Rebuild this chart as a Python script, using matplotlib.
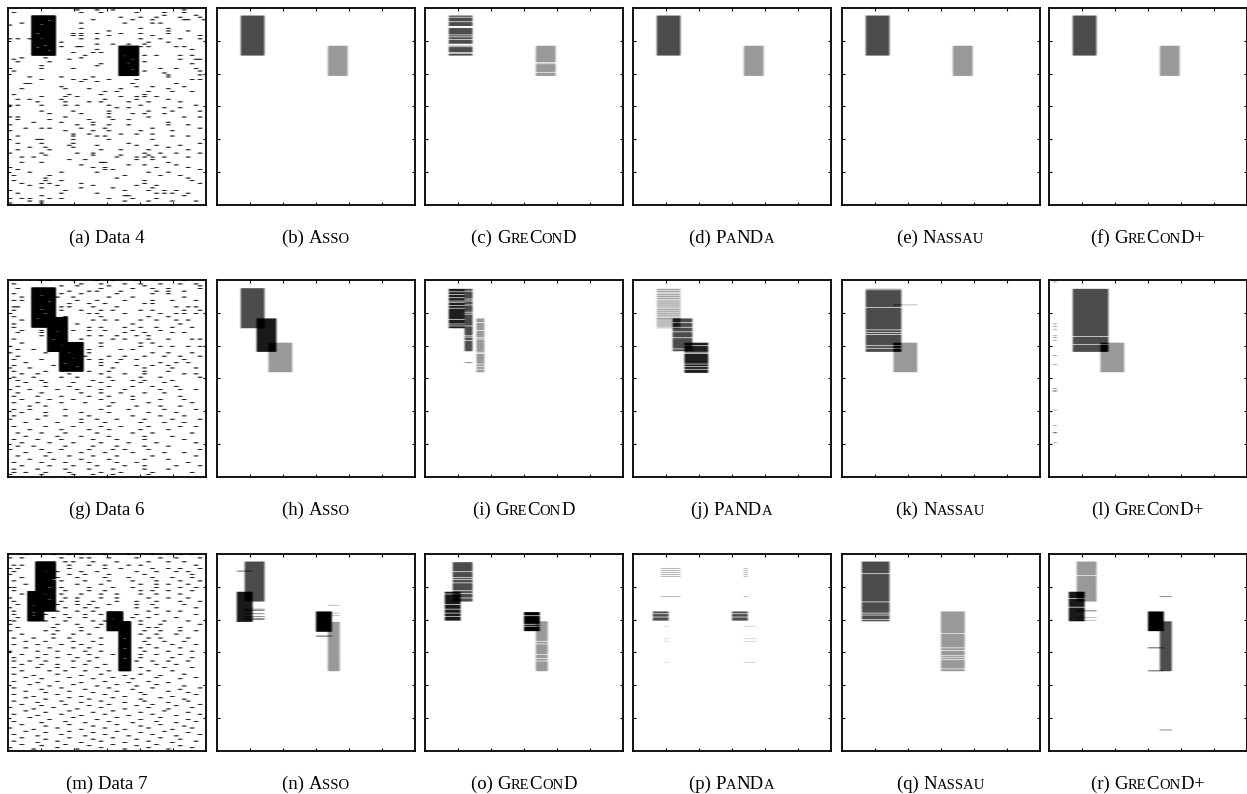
import numpy as np
import matplotlib
matplotlib.use("Agg")
import matplotlib.pyplot as plt
from matplotlib.colors import PowerNorm, Normalize
from matplotlib.offsetbox import TextArea, HPacker, AnnotationBbox

NR, NC = 300, 50  # rows x columns of every matrix

# ---------------- data matrices: blocks (row0, row1, col0, col1), noise, holes
data4_blocks = [(13, 74, 6, 12), (59, 105, 28, 33)]
data4_holes = [(20, 10), (26, 8), (40, 7), (48, 8), (58, 9), (61, 7), (66, 10),
               (74, 29), (79, 31), (85, 30), (95, 31)]
data4_noise = {
    4: [17, 22, 26, 44], 8: [1, 18, 23, 32, 39, 44], 12: [39, 47], 15: [28, 33, 37, 43, 48],
    19: [10, 21, 31, 36, 44, 45, 49], 24: [3, 18, 29, 36, 38], 27: [0], 32: [18, 33, 40],
    36: [25, 40, 45], 40: [16, 18, 22, 28, 33, 40], 43: [16, 18, 25, 36, 48],
    48: [0, 2, 5, 18, 22, 33, 38, 43, 48], 53: [13, 35, 40], 56: [22, 26, 30, 34],
    60: [13, 17, 18, 29, 33, 35, 42, 44], 64: [22, 46], 69: [16, 21, 23],
    73: [19, 34, 37, 43, 46], 77: [3, 9, 18], 79: [1, 15, 43, 47, 48], 83: [2, 10, 34],
    86: [23, 46], 89: [8, 22, 29], 93: [0, 8, 16, 38, 42, 47], 97: [1, 34, 48],
    100: [28, 39], 103: [40, 48], 106: [5, 13, 21, 40], 110: [8, 16, 19, 25, 32, 46, 48],
    113: [18, 22], 116: [4, 5, 31, 42], 121: [13, 32, 36, 44], 124: [3, 14, 20, 28, 40],
    128: [24, 27, 35, 41, 46], 133: [1, 15, 23, 34], 136: [8, 14, 17, 28, 32, 34, 37],
    140: [2, 5, 13, 24, 32, 40], 144: [7, 14, 20, 23, 30, 35, 43],
    149: [0, 2, 8, 14, 17, 25, 33, 47], 153: [27, 30, 39, 43], 158: [8, 16, 25, 35, 41, 48],
    162: [10, 18, 25, 31, 34, 39], 167: [0, 2, 14, 25, 35, 44, 48], 171: [2, 10, 20, 26, 30],
    175: [6, 13, 21, 40], 179: [0, 17, 21, 25, 30, 40, 45], 184: [4, 8, 10, 18, 24, 36, 48],
    188: [0, 14, 21, 25, 33, 41], 193: [16, 20, 28, 32, 36], 196: [2, 16, 22, 24, 41, 45],
    201: [7, 8, 16, 25, 36], 207: [2, 8, 16, 30, 48], 210: [15, 22, 32, 37, 43],
    213: [5, 9, 16, 40], 217: [2, 10, 23, 28, 35, 45], 222: [0, 8, 17, 21, 34, 38, 42, 48],
    225: [9, 21, 28, 35], 228: [3, 6, 27, 32, 34, 36, 39, 45], 232: [15, 19, 32, 36],
    236: [3, 8, 23, 24, 40], 240: [18, 30, 34, 42], 244: [0, 21, 24, 37, 45],
    247: [2, 24, 26, 48], 251: [5, 13, 22, 35, 40], 256: [1, 10, 29, 38, 43],
    260: [9, 27, 45], 264: [1, 9, 13, 34, 46], 268: [3, 8, 10, 18, 34, 48],
    271: [5, 12, 21, 32, 37], 275: [8, 18, 26, 36], 279: [0, 14, 29, 35, 39, 42],
    283: [2, 13, 22, 37, 39, 41, 45], 287: [8, 29, 30, 44], 291: [0, 3, 5, 10, 13, 25, 31, 37],
    295: [5, 8, 29, 35, 41, 47], 298: [0, 8],
}

data6_blocks = [(13, 74, 6, 12), (58, 111, 10, 15), (96, 141, 13, 19)]
data6_holes = [(25, 8), (34, 10), (46, 8), (52, 9), (60, 7), (80, 12), (92, 11),
               (100, 13), (112, 15), (120, 16), (128, 14), (133, 17)]
data6_noise = {
    2: [8, 10, 16, 22, 26, 32, 37, 44], 7: [1, 18, 23, 29, 33, 38, 43, 47],
    10: [13, 17, 25, 34, 48], 14: [2, 23, 31, 36, 40, 48], 18: [15, 20, 22, 28, 37, 40, 44],
    22: [1, 13, 18, 27, 36, 40], 27: [3, 12, 16, 25, 31, 44], 32: [1, 3, 17, 22, 29, 36, 41, 47],
    37: [15, 20, 24, 34, 36], 42: [1, 2, 13, 15, 21, 27, 42, 45, 47],
    47: [1, 13, 18, 23, 26, 33, 36, 44, 48], 52: [0, 20, 22, 29, 38, 42, 44, 47],
    57: [1, 14, 23, 35, 40], 62: [3, 21, 24, 27, 33, 37, 42, 45], 68: [1, 17, 31, 43],
    73: [1, 20, 23, 29, 33, 37, 41, 46], 78: [3, 8, 16, 20, 24, 31, 38],
    81: [2, 8, 29, 34, 41, 44], 86: [8, 20, 23, 27, 32, 35], 91: [1, 18, 26, 29, 35, 40, 46, 48],
    97: [3, 23, 33, 36], 102: [0, 18, 23, 33, 38, 41, 45, 48], 107: [2, 6, 20, 28, 31],
    112: [0, 9, 20, 36, 40, 46], 117: [2, 19, 25, 29, 34, 39, 43, 48],
    122: [1, 8, 20, 23, 28, 32, 44], 127: [4, 23, 27, 38, 42, 45], 131: [1, 11, 23, 32, 36, 40],
    135: [0, 5, 26, 34, 41, 47], 140: [1, 9, 20, 25, 34, 40], 144: [3, 7, 15, 23, 29, 34, 44, 47],
    149: [1, 6, 13, 17, 25, 33, 38, 48], 154: [2, 8, 21, 26, 31, 34, 41],
    157: [4, 9, 16, 23, 33, 39], 163: [2, 9, 15, 20, 25, 31, 36, 42],
    168: [0, 5, 12, 17, 23, 29, 38, 43, 47], 173: [2, 8, 18, 23, 28, 34, 39],
    178: [1, 7, 13, 20, 25, 31, 43], 183: [3, 10, 16, 23, 31, 38, 44],
    188: [1, 7, 13, 19, 26, 35, 46], 193: [5, 9, 25, 32, 38, 43], 198: [1, 5, 14, 23, 30, 39, 47],
    203: [3, 9, 18, 25, 35, 42], 208: [1, 9, 14, 20, 31, 38, 44],
    213: [0, 7, 18, 22, 27, 34, 41, 48], 218: [4, 12, 18, 24, 33, 39, 44],
    224: [1, 9, 16, 23, 28, 35, 43, 47], 229: [5, 13, 20, 25, 33, 40],
    234: [2, 8, 14, 22, 31, 36, 46], 239: [4, 12, 18, 25, 34, 41], 244: [1, 7, 13, 21, 27, 34, 44],
    249: [3, 10, 16, 23, 30, 37, 47], 254: [2, 6, 14, 21, 27, 34, 40],
    259: [0, 8, 13, 20, 26, 29, 35, 48], 264: [4, 10, 18, 24, 31, 39, 44],
    269: [2, 9, 15, 21, 27, 36, 47], 274: [5, 11, 18, 25, 34, 40], 279: [1, 8, 14, 20, 27, 32, 45],
    284: [3, 10, 16, 22, 29, 34, 42, 48], 289: [1, 7, 14, 20, 26, 34, 40],
    294: [1, 4, 9, 15, 23, 28, 36, 46], 297: [0, 8, 16, 21, 26, 35],
}

data7_blocks = [(13, 89, 7, 12), (58, 104, 5, 9), (89, 119, 25, 29), (104, 180, 28, 31)]
data7_holes = [(27, 9), (40, 11), (52, 10), (62, 9), (70, 10), (80, 6), (90, 6),
               (95, 6), (100, 26), (130, 29), (145, 29), (160, 29)]
data7_noise = {
    2: [4, 8, 11, 15, 18, 24, 30, 36, 40, 43, 46], 7: [0, 3, 13, 18, 20, 25, 32, 38, 42, 48],
    13: [14, 16, 21, 27, 35, 40, 44], 18: [1, 3, 15, 20, 24, 30, 33, 47],
    23: [0, 2, 15, 24, 28, 36, 40, 43, 48], 28: [1, 12, 18, 22, 32, 37, 42, 45],
    32: [0, 15, 19, 25, 34, 46], 37: [3, 12, 17, 24, 30, 36, 41, 46],
    42: [1, 13, 19, 25, 31, 37, 43, 48], 47: [4, 17, 23, 33, 37, 40, 45],
    52: [1, 13, 20, 26, 31, 37, 43, 47], 57: [1, 14, 20, 24, 33, 36, 40, 46],
    62: [3, 13, 18, 23, 27, 33, 37, 43], 68: [0, 14, 17, 23, 27, 35, 40, 45],
    73: [1, 13, 17, 21, 27, 32, 37, 43, 48], 78: [2, 12, 17, 20, 25, 32, 36, 44],
    83: [0, 9, 14, 19, 22, 32, 37, 47], 88: [1, 12, 17, 21, 35, 40, 43],
    93: [1, 9, 14, 19, 23, 32, 37, 47], 98: [2, 11, 15, 19, 31, 35, 42],
    103: [1, 9, 14, 21, 24, 33, 39, 45], 108: [0, 12, 17, 23, 33, 38, 48],
    113: [2, 11, 18, 22, 35, 37, 43], 118: [0, 9, 12, 18, 34, 38, 43, 47],
    123: [3, 11, 16, 20, 33, 37, 42], 129: [1, 6, 11, 15, 23, 35, 38, 45],
    134: [4, 9, 16, 21, 34, 39, 44], 139: [1, 7, 13, 18, 23, 35, 41, 47],
    144: [4, 10, 16, 20, 33, 37, 43], 149: [0, 7, 12, 19, 23, 34, 40, 46],
    154: [3, 9, 15, 20, 26, 33, 37, 43], 159: [1, 7, 12, 17, 22, 33, 41, 46],
    164: [1, 5, 9, 16, 20, 32, 36, 40, 45], 169: [3, 8, 12, 19, 24, 37, 42],
    174: [1, 7, 12, 16, 22, 33, 39, 46], 179: [3, 10, 14, 19, 25, 28, 35, 41],
    184: [1, 12, 23, 33, 44], 186: [6, 18, 29, 38],
    189: [4, 15, 26, 37, 47], 191: [8, 21, 31, 43],
    195: [1, 12, 24, 35], 197: [7, 18, 30, 40],
    200: [5, 16, 27, 37], 202: [10, 22, 32, 44],
    205: [1, 13, 25, 36, 48], 207: [8, 19, 31, 43],
    210: [4, 15, 27, 40], 212: [9, 21, 33, 45],
    215: [1, 12, 24, 34, 47], 218: [6, 18, 29, 41],
    220: [4, 15, 26, 38], 222: [9, 20, 33, 44],
    225: [1, 13, 23, 34, 45], 227: [7, 18, 29, 40],
    230: [3, 14, 25, 36, 48], 232: [8, 20, 32, 42],
    235: [0, 11, 23, 35, 46], 237: [6, 17, 29, 40],
    240: [4, 15, 26, 39], 242: [9, 21, 33, 45],
    245: [1, 13, 24, 36, 48], 247: [7, 18, 30, 42],
    250: [5, 16, 27, 38], 253: [10, 22, 33, 45],
    256: [1, 14, 25, 37, 47], 258: [8, 19, 31, 42],
    261: [3, 15, 27, 38], 263: [9, 21, 33, 44],
    266: [0, 12, 24, 35, 46], 268: [6, 18, 29, 41],
    271: [4, 15, 27, 39], 273: [9, 21, 33, 45],
    276: [1, 13, 24, 36, 48], 278: [7, 19, 30, 42],
    281: [3, 15, 26, 38], 283: [9, 21, 32, 43],
    286: [1, 12, 23, 35, 47], 288: [7, 18, 29, 41],
    291: [3, 14, 26, 37], 293: [8, 20, 32, 43],
    296: [0, 12, 23, 35, 46], 298: [6, 17, 29, 40],
}

# ---------------- factors found by each method
# rows/cols are half-open ranges; gaps = missing rows, add_rows/add_cols = extra ones
asso4 = [dict(rows=(13, 74), cols=(6, 12)), dict(rows=(59, 105), cols=(28, 33))]
grecond4 = [dict(rows=(13, 74), cols=(6, 12),
                 gaps=[15, 22, 29, 30, 31, 42, 45, 49, 56, 57, 58, 60, 69, 70]),
            dict(rows=(59, 105), cols=(28, 33), gaps=[84, 86, 99])]
panda4 = [dict(rows=(13, 74), cols=(6, 12)), dict(rows=(59, 105), cols=(28, 33))]
nassau4 = [dict(rows=(13, 74), cols=(6, 12)), dict(rows=(59, 105), cols=(28, 33))]
grecondp4 = [dict(rows=(13, 74), cols=(6, 12)), dict(rows=(59, 105), cols=(28, 33))]

asso6 = [dict(rows=(14, 75), cols=(6, 12)), dict(rows=(60, 111), cols=(10, 15)),
         dict(rows=(97, 142), cols=(13, 19))]
grecond6 = [dict(rows=(15, 75), cols=(6, 10), gaps=[19, 23, 28, 33, 35, 40, 44, 61, 68, 71]),
            dict(rows=(15, 110), cols=(10, 12), gaps=[18, 30, 33, 39, 50, 53, 71, 86, 88, 93],
                 add_rows=[127]),
            dict(rows=(60, 142), cols=(13, 15), gaps=[66, 78, 89, 91, 111, 113, 129, 133, 137])]
panda6 = [dict(rows=(15, 75), cols=(6, 12),
               gaps=[17, 20, 22, 25, 28, 31, 33, 36, 39, 42, 44, 47, 50, 53, 56, 58, 62, 65,
                     68, 71, 73]),
          dict(rows=(60, 110), cols=(10, 15), gaps=[66, 73, 80, 89, 106]),
          dict(rows=(97, 143), cols=(13, 19), gaps=[101, 111, 113, 129, 133, 137])]
nassau6 = [dict(rows=(15, 111), cols=(6, 15), gaps=[16, 43, 77, 81, 84, 101, 105]),
           dict(rows=(97, 142), cols=(13, 19), add_rows=[39])]
grecondp6 = [dict(rows=(15, 111), cols=(6, 15), gaps=[87, 99]),
             dict(rows=(97, 142), cols=(13, 19)),
             dict(rows=(0, 0), cols=(1, 2),
                  add_rows=[4, 68, 72, 76, 86, 89, 93, 116, 130, 166, 169, 171, 199, 223,
                            233, 234, 249])]

asso7 = [dict(rows=(13, 74), cols=(7, 12), add_rows=[0, 85, 87, 92, 96, 99, 101]),
         dict(rows=(59, 105), cols=(5, 9), add_rows=[27]),
         dict(rows=(89, 120), cols=(25, 29), add_rows=[126]),
         dict(rows=(105, 180), cols=(28, 31), add_rows=[79, 91, 95])]
grecond7 = [dict(rows=(14, 74), cols=(7, 12), gaps=[28, 37, 40, 45, 57, 61, 68]),
            dict(rows=(59, 103), cols=(5, 9), gaps=[62, 78, 85, 91, 96]),
            dict(rows=(90, 119), cols=(25, 29), gaps=[95, 108, 111]),
            dict(rows=(104, 180), cols=(28, 31), gaps=[134, 138, 154, 160, 164])]
panda7 = [dict(rows=(0, 0), cols=(7, 12), add_rows=[23, 26, 29, 32, 35, 66], add_cols=[28]),
          dict(rows=(89, 103), cols=(5, 9), gaps=[92, 97], add_cols=[25, 26, 27, 28]),
          dict(rows=(0, 0), cols=(8, 9), add_rows=[111, 130, 134, 166], add_cols=[28, 29, 30])]
nassau7 = [dict(rows=(13, 104), cols=(5, 12), gaps=[31, 74, 91, 94, 101]),
           dict(rows=(89, 180), cols=(25, 31), gaps=[122, 144, 148, 156, 159, 162, 176])]
grecondp7 = [dict(rows=(13, 74), cols=(7, 12), gaps=[34], add_rows=[87, 88, 98, 102]),
             dict(rows=(59, 104), cols=(5, 9), gaps=[69, 82]),
             dict(rows=(89, 119), cols=(25, 29), add_rows=[144, 179]),
             dict(rows=(104, 180), cols=(28, 31), add_rows=[66, 269])]

# ---------------- styles: grey level of every factor (0 black, 1 white)
shades = {
    "asso4": [0.30, 0.60], "grecond4": [0.30, 0.60], "panda4": [0.30, 0.60],
    "nassau4": [0.30, 0.60], "grecondp4": [0.30, 0.60],
    "asso6": [0.30, 0.10, 0.60], "grecond6": [0.12, 0.30, 0.60],
    "panda6": [0.62, 0.30, 0.12], "nassau6": [0.30, 0.60], "grecondp6": [0.30, 0.60, 0.45],
    "asso7": [0.30, 0.10, 0.0, 0.60], "grecond7": [0.30, 0.10, 0.0, 0.60],
    "panda7": [0.55, 0.30, 0.75], "nassau7": [0.30, 0.60],
    "grecondp7": [0.60, 0.10, 0.0, 0.30],
}

ASSO = [("A", 0), ("SSO", 1)]
GRECOND = [("G", 0), ("RE", 1), ("C", 0), ("ON", 1), ("D", 0)]
PANDA = [("P", 0), ("A", 1), ("ND", 0), ("A", 1)]
NASSAU = [("N", 0), ("ASSAU", 1)]
GRECONDP = GRECOND + [("+", 0)]


def data_matrix(blocks, noise, holes):
    m = np.ones((NR, NC))
    for r0, r1, c0, c1 in blocks:
        m[r0:r1, c0:c1] = 0
    for r, cs in noise.items():
        m[r, cs] = 0
    for r, c in holes:
        m[r, c] = 1
    return m


def factor_matrix(factors, greys):
    m = np.ones((NR, NC))
    count = np.zeros((NR, NC), dtype=int)
    for f, g in zip(factors, greys):
        rows = (set(range(*f["rows"])) - set(f.get("gaps", []))) | set(f.get("add_rows", []))
        cols = set(range(*f["cols"])) | set(f.get("add_cols", []))
        mask = np.zeros((NR, NC), dtype=bool)
        mask[np.ix_(sorted(rows), sorted(cols))] = True
        m[mask & (count == 0)] = g
        m[mask & (count > 0)] = 0
        count += mask
    return m


panels = [
    [(data_matrix(data4_blocks, data4_noise, data4_holes), [("Data 4", 0)]),
     (factor_matrix(asso4, shades["asso4"]), ASSO),
     (factor_matrix(grecond4, shades["grecond4"]), GRECOND),
     (factor_matrix(panda4, shades["panda4"]), PANDA),
     (factor_matrix(nassau4, shades["nassau4"]), NASSAU),
     (factor_matrix(grecondp4, shades["grecondp4"]), GRECONDP)],
    [(data_matrix(data6_blocks, data6_noise, data6_holes), [("Data 6", 0)]),
     (factor_matrix(asso6, shades["asso6"]), ASSO),
     (factor_matrix(grecond6, shades["grecond6"]), GRECOND),
     (factor_matrix(panda6, shades["panda6"]), PANDA),
     (factor_matrix(nassau6, shades["nassau6"]), NASSAU),
     (factor_matrix(grecondp6, shades["grecondp6"]), GRECONDP)],
    [(data_matrix(data7_blocks, data7_noise, data7_holes), [("Data 7", 0)]),
     (factor_matrix(asso7, shades["asso7"]), ASSO),
     (factor_matrix(grecond7, shades["grecond7"]), GRECOND),
     (factor_matrix(panda7, shades["panda7"]), PANDA),
     (factor_matrix(nassau7, shades["nassau7"]), NASSAU),
     (factor_matrix(grecondp7, shades["grecondp7"]), GRECONDP)],
]

W, H = 1247, 794
fig = plt.figure(figsize=(W / 100, H / 100), dpi=100)

lefts = [8, 217, 425, 633, 842, 1049]
tops = [8, 280, 554]
pw, ph = 197.5, 196.5
letters = "abcdefghijklmnopqr"
fs, fs_small = 13.5, 10.5

for i, row in enumerate(panels):
    for j, (mat, name) in enumerate(row):
        ax = fig.add_axes([lefts[j] / W, (H - tops[i] - ph) / H, pw / W, ph / H])
        if j == 0:
            # data: smooth first, then darken the thin single-row dashes
            ax.imshow(mat, cmap="gray", norm=PowerNorm(2.2, vmin=0, vmax=1),
                      aspect="auto", extent=(0, NC, NR, 0),
                      interpolation="antialiased", interpolation_stage="data")
        else:
            ax.imshow(mat, cmap="gray", norm=Normalize(0, 1), aspect="auto",
                      extent=(0, NC, NR, 0), interpolation="antialiased")
        ax.set_xticks([NC * k / 6 for k in range(1, 6)])
        ax.set_yticks([NR * k / 6 for k in range(1, 6)])
        ax.tick_params(direction="in", length=2.5, width=0.8, top=True, right=True,
                       labelbottom=False, labelleft=False)
        for s in ax.spines.values():
            s.set_linewidth(1.3)

        pieces = [("(%s) " % letters[i * 6 + j], 0)] + name
        boxes = [TextArea(t, textprops=dict(fontsize=fs_small if small else fs,
                                            family="Liberation Serif"))
                 for t, small in pieces]
        pack = HPacker(children=boxes, align="baseline", pad=0, sep=0)
        ab = AnnotationBbox(pack, (lefts[j] + pw / 2, H - (tops[i] + ph + 34)),
                            xycoords="figure pixels", frameon=False,
                            box_alignment=(0.5, 0.5))
        fig.add_artist(ab)

fig.savefig("out.png", dpi=100)
